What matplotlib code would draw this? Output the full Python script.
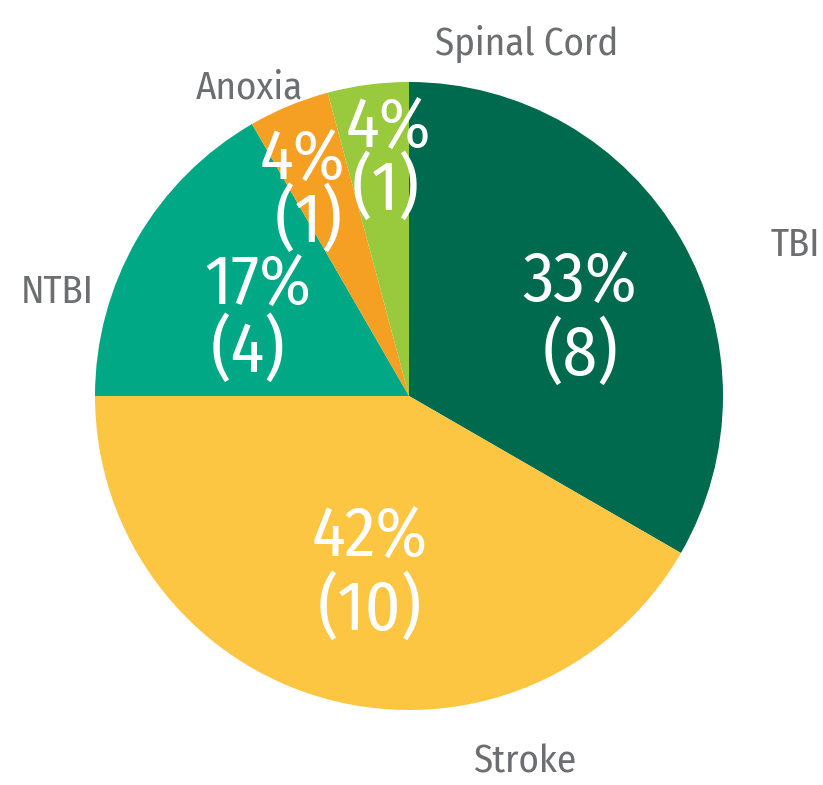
import matplotlib
matplotlib.use('Agg')
import matplotlib.pyplot as plt

categories = ['TBI', 'Stroke', 'NTBI', 'Anoxia', 'Spinal Cord']
counts = [8, 10, 4, 1, 1]
colors = ['#006A4E', '#FCC642', '#00A885', '#F6A023', '#99C93D']

# layout in data units (pie radius = 1): outside name, percent line, count line
name_pos = [(1.23, 0.48), (0.37, -1.165), (-1.12, 0.33), (-0.51, 0.98), (0.375, 1.12)]
pct_pos = [(0.545, 0.363), (-0.124, -0.449), (-0.481, 0.354), (-0.338, 0.752), (-0.067, 0.852)]
cnt_pos = [(0.545, 0.13), (-0.124, -0.68), (-0.513, 0.14), (-0.32, 0.554), (-0.076, 0.656)]

plt.rcParams['font.family'] = ['Fira Sans Condensed', 'DejaVu Sans']

fig = plt.figure(figsize=(8.23, 7.85), dpi=100)
cx, cy, r = 409, 396, 314
ax = fig.add_axes([(cx - r) / 823, (785 - cy - r) / 785, 2 * r / 823, 2 * r / 785])

wedges, _ = ax.pie(counts, colors=colors, startangle=90, counterclock=False,
                   radius=1, wedgeprops=dict(linewidth=0))
ax.set_xlim(-1, 1)
ax.set_ylim(-1, 1)
ax.set_aspect('equal')
ax.axis('off')

total = sum(counts)
for i, (name, n) in enumerate(zip(categories, counts)):
    pct = round(100 * n / total)
    ax.text(*name_pos[i], name, ha='center', va='center', fontsize=28,
            color='#6D6E71', clip_on=False)
    ax.text(*pct_pos[i], f'{pct}%', ha='center', va='center', fontsize=50,
            color='white', clip_on=False)
    ax.text(*cnt_pos[i], f'({n})', ha='center', va='center', fontsize=50,
            color='white', clip_on=False)

fig.savefig('out.png', dpi=100)
